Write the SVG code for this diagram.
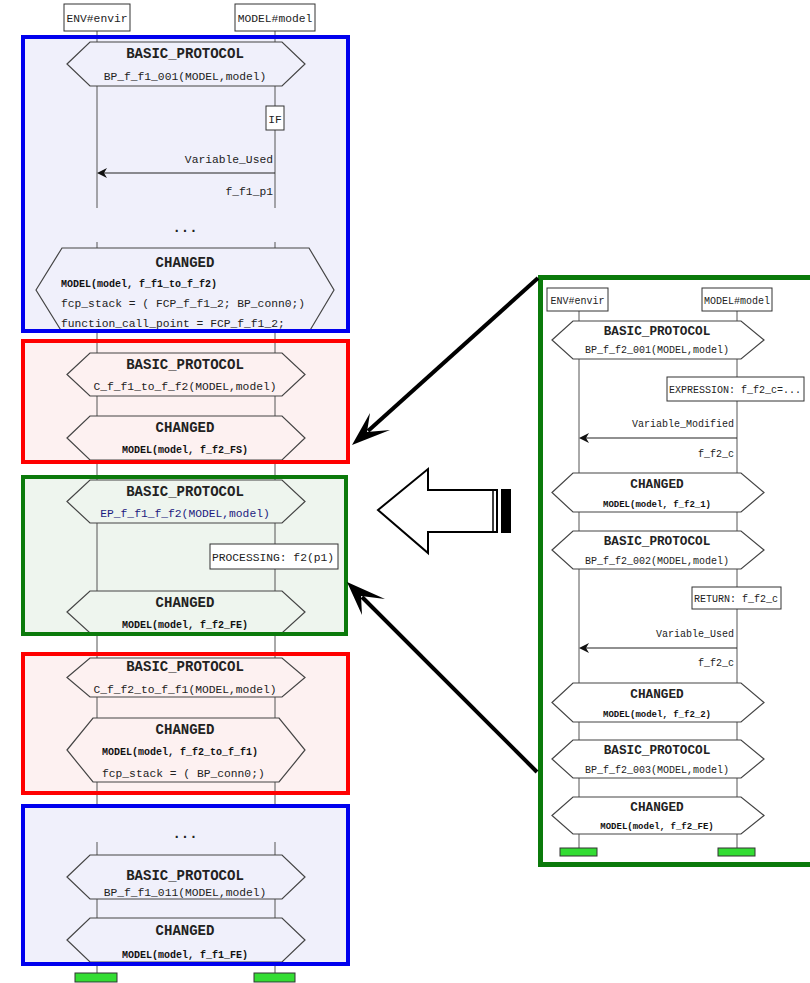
<svg xmlns="http://www.w3.org/2000/svg" width="810" height="983" viewBox="0 0 810 983">
<style>
.life{stroke:#555;stroke-width:1;fill:none}
.hex{stroke:#444;stroke-width:1.2}
.hb{fill:#f0f0fb}.hr{fill:#fdf1f1}.hg{fill:#eef5ee}.hw{fill:#fff}
.box{fill:#fff;stroke:#333;stroke-width:1}
.h{font-family:"Liberation Mono",monospace;font-weight:bold;font-size:14px;text-anchor:middle;fill:#222}
.t{font-family:"Liberation Mono",monospace;font-size:11.3px;fill:#222}
.c{text-anchor:middle}
.r{text-anchor:end}
.b{font-family:"Liberation Mono",monospace;font-weight:bold;font-size:10px;fill:#111}
.h2{font-family:"Liberation Mono",monospace;font-weight:bold;font-size:12.7px;text-anchor:middle;fill:#222}
.t2{font-family:"Liberation Mono",monospace;font-size:10px;fill:#222}
.b2{font-family:"Liberation Mono",monospace;font-weight:bold;font-size:9px;fill:#111;text-anchor:middle}
.bar{fill:#33dd33;stroke:#333;stroke-width:1}
.fb{stroke:#0000ee;stroke-width:4;fill:none}
.fr{stroke:#ff0000;stroke-width:4;fill:none}
.fg{stroke:#0b7a0b;stroke-width:4;fill:none}
.conn{stroke:#000;stroke-width:4;fill:none}
</style>

<!-- frame fills -->
<g id="fills">
<rect x="23" y="37" width="325" height="294" fill="#f0f0fb"/>
<rect x="23" y="341" width="325" height="121" fill="#fdf1f1"/>
<rect x="23" y="477" width="323" height="157" fill="#eef5ee"/>
<rect x="23" y="654" width="325" height="139" fill="#fdf1f1"/>
<rect x="23" y="806" width="325" height="158" fill="#f0f0fb"/>
<rect x="540.5" y="277.5" width="290" height="587" fill="#fff"/>
</g>

<!-- lifelines -->
<g id="lifelines">
<path class="life" d="M97 31V208M275 31V208M97 242V806M275 242V806M97 842V973M275 842V973"/>
<path class="life" d="M579 311V848M737 311V848"/>
</g>

<!-- left column -->
<g id="env-left">
<rect class="box" x="64" y="4" width="66" height="27"/>
<text class="t" x="97" y="22" text-anchor="middle" font-size="11.8">ENV#envir</text>
</g>
<g id="model-left">
<rect class="box" x="235" y="4" width="80" height="27"/>
<text class="t" x="275" y="22" text-anchor="middle" font-size="11.5">MODEL#model</text>
</g>

<g id="bp-f-f1-001">
<polygon class="hex hb" points="67,64 90,42 282,42 305,64 282,86 90,86"/>
<text class="h" x="185" y="58">BASIC_PROTOCOL</text>
<text class="t c" x="185" y="80">BP_f_f1_001(MODEL,model)</text>
</g>
<g id="if-box">
<rect class="box" x="266" y="106" width="18" height="24"/>
<text class="t c" x="275" y="123">IF</text>
</g>
<g id="msg-left">
<text class="t r" x="273" y="163">Variable_Used</text>
<line x1="275" y1="173" x2="100" y2="173" stroke="#222" stroke-width="1.2"/>
<polygon points="97,173 107,168 104,173 107,178" fill="#111"/>
<text class="t r" x="273" y="195">f_f1_p1</text>
</g>
<text class="h" x="185" y="232">...</text>
<g id="changed-f1-to-f2">
<polygon class="hex hb" points="36,290 62,248 309,248 334,290 309,332 62,332"/>
<text class="h" x="185" y="267">CHANGED</text>
<text class="b" x="61" y="287">MODEL(model, f_f1_to_f_f2)</text>
<text class="t" x="61" y="307">fcp_stack = ( FCP_f_f1_2; BP_conn0;)</text>
<text class="t" x="61" y="327">function_call_point = FCP_f_f1_2;</text>
</g>

<g id="c-f-f1-to-f-f2">
<polygon class="hex hr" points="67,374.5 90,353 282,353 305,374.5 282,396 90,396"/>
<text class="h" x="185" y="369">BASIC_PROTOCOL</text>
<text class="t c" x="185" y="390">C_f_f1_to_f_f2(MODEL,model)</text>
</g>
<g id="changed-f2-fs">
<polygon class="hex hr" points="67,438 90,416 282,416 305,438 282,460 90,460"/>
<text class="h" x="185" y="432">CHANGED</text>
<text class="b c" x="185" y="453" text-anchor="middle">MODEL(model, f_f2_FS)</text>
</g>

<g id="ep-f-f1-f-f2">
<polygon class="hex hg" points="67,501.5 90,480 282,480 305,501.5 282,523 90,523"/>
<text class="h" x="185" y="496">BASIC_PROTOCOL</text>
<text class="t c" x="185" y="517" fill="#1c1c80" style="fill:#1c1c80">EP_f_f1_f_f2(MODEL,model)</text>
</g>
<g id="processing">
<rect class="box" x="210" y="544" width="128" height="25"/>
<text class="t" x="212" y="561">PROCESSING: f2(p1)</text>
</g>
<g id="changed-f2-fe">
<polygon class="hex hg" points="67,612 90,591 282,591 305,612 282,633 90,633"/>
<text class="h" x="185" y="607">CHANGED</text>
<text class="b" x="185" y="628" text-anchor="middle">MODEL(model, f_f2_FE)</text>
</g>

<g id="c-f-f2-to-f-f1">
<polygon class="hex hr" points="67,677.5 90,658 282,658 305,677.5 282,697 90,697"/>
<text class="h" x="185" y="671">BASIC_PROTOCOL</text>
<text class="t c" x="185" y="693">C_f_f2_to_f_f1(MODEL,model)</text>
</g>
<g id="changed-f2-to-f1">
<polygon class="hex hr" points="67,750 93,718 279,718 305,750 279,782 93,782"/>
<text class="h" x="185" y="734">CHANGED</text>
<text class="b" x="102" y="755">MODEL(model, f_f2_to_f_f1)</text>
<text class="t" x="102" y="777">fcp_stack = ( BP_conn0;)</text>
</g>

<text class="h" x="185" y="838">...</text>
<g id="bp-f-f1-011">
<polygon class="hex hb" points="67,877 90,855 282,855 305,877 282,899 90,899"/>
<text class="h" x="185" y="880">BASIC_PROTOCOL</text>
<text class="t c" x="185" y="896">BP_f_f1_011(MODEL,model)</text>
</g>
<g id="changed-f1-fe">
<polygon class="hex hb" points="67,940 90,918 282,918 305,940 282,962 90,962"/>
<text class="h" x="185" y="935">CHANGED</text>
<text class="b" x="185" y="958" text-anchor="middle">MODEL(model, f_f1_FE)</text>
</g>
<g id="ends-left">
<rect class="bar" x="75" y="973" width="42" height="9"/>
<rect class="bar" x="254" y="973" width="41" height="9"/>
</g>

<!-- left frames -->
<g id="frame-blue-1"><rect class="fb" x="23" y="37" width="325" height="294"/></g>
<g id="frame-red-1"><rect class="fr" x="23" y="341" width="325" height="121"/></g>
<g id="frame-green-1"><rect class="fg" x="23" y="477" width="323" height="157"/></g>
<g id="frame-red-2"><rect class="fr" x="23" y="654" width="325" height="139"/></g>
<g id="frame-blue-2"><rect class="fb" x="23" y="806" width="325" height="158"/></g>

<!-- right panel -->
<g id="env-right">
<rect class="box" x="547" y="288" width="61" height="23"/>
<text class="t2" x="577.5" y="304" text-anchor="middle" font-size="10.7">ENV#envir</text>
</g>
<g id="model-right">
<rect class="box" x="702" y="288" width="70" height="23"/>
<text class="t2" x="737" y="304" text-anchor="middle" font-size="10.5">MODEL#model</text>
</g>
<g id="bp-f-f2-001">
<polygon class="hex hw" points="552,340 573,321 741,321 764,340 741,359 573,359"/>
<text class="h2" x="657" y="335">BASIC_PROTOCOL</text>
<text class="t2" x="657" y="353" text-anchor="middle">BP_f_f2_001(MODEL,model)</text>
</g>
<g id="expression">
<rect class="box" x="667" y="377" width="137" height="24"/>
<text class="t2" x="669" y="393">EXPRESSION: f_f2_c=...</text>
</g>
<g id="msg-right-1">
<text class="t2" x="734" y="427" text-anchor="end">Variable_Modified</text>
<line x1="737" y1="438" x2="582" y2="438" stroke="#222" stroke-width="1.2"/>
<polygon points="579,438 589,433 586,438 589,443" fill="#111"/>
<text class="t2" x="734" y="457" text-anchor="end">f_f2_c</text>
</g>
<g id="changed-f2-1">
<polygon class="hex hw" points="552,492.5 573,473 741,473 764,492.5 741,512 573,512"/>
<text class="h2" x="657" y="488">CHANGED</text>
<text class="b2" x="657" y="507">MODEL(model, f_f2_1)</text>
</g>
<g id="bp-f-f2-002">
<polygon class="hex hw" points="552,550 573,531 741,531 764,550 741,569 573,569"/>
<text class="h2" x="657" y="545">BASIC_PROTOCOL</text>
<text class="t2" x="657" y="564" text-anchor="middle">BP_f_f2_002(MODEL,model)</text>
</g>
<g id="return">
<rect class="box" x="692" y="587" width="89" height="22"/>
<text class="t2" x="694" y="602">RETURN: f_f2_c</text>
</g>
<g id="msg-right-2">
<text class="t2" x="734" y="637" text-anchor="end">Variable_Used</text>
<line x1="737" y1="648" x2="582" y2="648" stroke="#222" stroke-width="1.2"/>
<polygon points="579,648 589,643 586,648 589,653" fill="#111"/>
<text class="t2" x="734" y="666" text-anchor="end">f_f2_c</text>
</g>
<g id="changed-f2-2">
<polygon class="hex hw" points="552,702.5 573,683 741,683 764,702.5 741,722 573,722"/>
<text class="h2" x="657" y="698">CHANGED</text>
<text class="b2" x="657" y="717">MODEL(model, f_f2_2)</text>
</g>
<g id="bp-f-f2-003">
<polygon class="hex hw" points="552,759 573,740 741,740 764,759 741,778 573,778"/>
<text class="h2" x="657" y="754">BASIC_PROTOCOL</text>
<text class="t2" x="657" y="773" text-anchor="middle">BP_f_f2_003(MODEL,model)</text>
</g>
<g id="changed-f2-fe-right">
<polygon class="hex hw" points="552,815.5 573,797 741,797 764,815.5 741,834 573,834"/>
<text class="h2" x="657" y="811">CHANGED</text>
<text class="b2" x="657" y="829">MODEL(model, f_f2_FE)</text>
</g>
<g id="ends-right">
<rect class="bar" x="560" y="848" width="37" height="8"/>
<rect class="bar" x="718" y="848" width="37" height="8"/>
</g>
<g id="frame-green-right"><rect x="540.5" y="277.5" width="290" height="587" fill="none" stroke="#0b7a0b" stroke-width="5"/></g>

<!-- connectors -->
<g id="connectors">
<line class="conn" x1="538" y1="278" x2="368" y2="431"/>
<polygon points="352,445 370,413 367,432 390,430" fill="#000"/>
<line class="conn" x1="537" y1="772" x2="362" y2="597"/>
<polygon points="347,582 362,615 361,596 385,599" fill="#000"/>
<polygon points="378,510 428,469 428,490 497,490 497,532 428,532 428,553" fill="#fff" stroke="#000" stroke-width="2"/>
<line x1="493" y1="490" x2="493" y2="532" stroke="#000" stroke-width="1.5"/>
<rect x="501" y="489" width="10" height="44" fill="#000"/>
</g>
</svg>
